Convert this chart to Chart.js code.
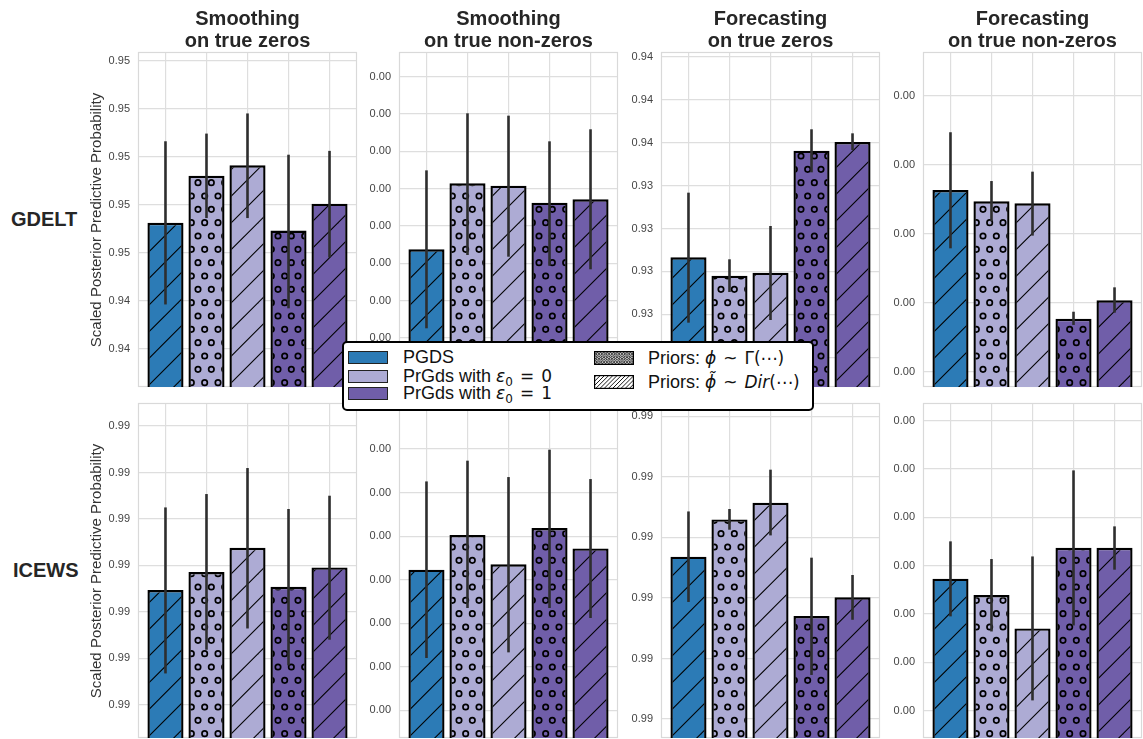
<!DOCTYPE html>
<html>
<head>
<meta charset="utf-8">
<script src="https://cdn.jsdelivr.net/npm/chart.js@4.4.0/dist/chart.umd.min.js"></script>
<style>
  body{margin:0;width:1143px;height:739px;overflow:hidden;background:#fff;position:relative;
       font-family:"Liberation Sans",Arial,sans-serif;color:#262626}
  canvas.panel{position:absolute}
  .title{position:absolute;width:300px;text-align:center;font-weight:bold;font-size:20px;line-height:22px}
  .rowlab{position:absolute;font-weight:bold;font-size:20px;line-height:22px}
  .ylab{position:absolute;font-size:15px;white-space:nowrap;color:#333;transform:translate(-50%,-50%) rotate(-90deg)}
  #legend{position:absolute;left:342px;top:341px;width:472px;height:70px;box-sizing:border-box;
          border:2px solid #000;border-radius:5px;background:#fff;z-index:5;color:#111}
  #legend canvas{position:absolute}
  #legend .lt{position:absolute;font-size:18px;line-height:20px;white-space:nowrap}
  #legend .m{font-family:"DejaVu Sans",sans-serif;font-size:17px}
  #legend .rel{margin:0 7px}
  #legend sub{font-family:"DejaVu Sans",sans-serif;font-size:12px;vertical-align:-4px;line-height:0}
</style>
</head>
<body>
<div id="legend"></div>
<script>
// ---- data ----
const colTitles = [['Smoothing','on true zeros'],['Smoothing','on true non-zeros'],['Forecasting','on true zeros'],['Forecasting','on true non-zeros']];
const rowNames = ['GDELT','ICEWS'];
const yTitle = 'Scaled Posterior Predictive Probability';

const models = ['PGDS (Dir)','PrGds e0=0 (Gamma)','PrGds e0=0 (Dir)','PrGds e0=1 (Gamma)','PrGds e0=1 (Dir)'];
const barColors = ['#2c7bb6','#adabd4','#adabd4','#705ea9','#705ea9'];
const barHatch = ['/','o','/','o','/'];

// GDELT
const gdeltSmoothZeros    = [0.94531, 0.94580, 0.94591, 0.94523, 0.94551];
const gdeltSmoothZerosLo  = [0.94446, 0.94536, 0.94536, 0.94442, 0.94495];
const gdeltSmoothZerosHi  = [0.94616, 0.94624, 0.94645, 0.94602, 0.94606];
const gdeltSmoothZerosTicks  = [0.9440, 0.9445, 0.9450, 0.9455, 0.9460, 0.9465, 0.9470];
const gdeltSmoothZerosLabels = ['0.94','0.94','0.95','0.95','0.95','0.95','0.95'];
const gdeltSmoothZerosRange  = [0.94360, 0.94709];

const gdeltSmoothNonZeros   = [0.002350, 0.003057, 0.003032, 0.002850, 0.002886];
const gdeltSmoothNonZerosLo = [0.001504, 0.002289, 0.002271, 0.002174, 0.002136];
const gdeltSmoothNonZerosHi = [0.003196, 0.003807, 0.003782, 0.003507, 0.003636];
const gdeltSmoothNonZerosTicks  = [0.0010, 0.0014, 0.0018, 0.0022, 0.0026, 0.0030, 0.0034, 0.0038, 0.0042];
const gdeltSmoothNonZerosLabels = ['0.00','0.00','0.00','0.00','0.00','0.00','0.00','0.00','0.00'];
const gdeltSmoothNonZerosRange  = [0.000875, 0.004464];

const gdeltForecastZeros   = [0.933664, 0.933450, 0.933485, 0.934906, 0.935007];
const gdeltForecastZerosLo = [0.932903, 0.933260, 0.932934, 0.934654, 0.934914];
const gdeltForecastZerosHi = [0.934417, 0.933641, 0.934029, 0.935155, 0.935108];
const gdeltForecastZerosTicks  = [0.9325, 0.9330, 0.9335, 0.9340, 0.9345, 0.9350, 0.9355, 0.9360];
const gdeltForecastZerosLabels = ['0.93','0.93','0.93','0.93','0.93','0.94','0.94','0.94'];
const gdeltForecastZerosRange  = [0.932154, 0.936055];

const gdeltForecastNonZeros   = [0.002318, 0.002236, 0.002222, 0.001384, 0.001518];
const gdeltForecastNonZerosLo = [0.001895, 0.002091, 0.001987, 0.001339, 0.001428];
const gdeltForecastNonZerosHi = [0.002737, 0.002383, 0.002451, 0.001435, 0.001612];
const gdeltForecastNonZerosTicks  = [0.0010, 0.0015, 0.0020, 0.0025, 0.0030];
const gdeltForecastNonZerosLabels = ['0.00','0.00','0.00','0.00','0.00'];
const gdeltForecastNonZerosRange  = [0.000889, 0.003319];

// ICEWS
const icewsSmoothZeros   = [0.992235, 0.992428, 0.992690, 0.992270, 0.992478];
const icewsSmoothZerosLo = [0.991337, 0.991592, 0.991821, 0.991423, 0.991700];
const icewsSmoothZerosHi = [0.993124, 0.993268, 0.993548, 0.993107, 0.993250];
const icewsSmoothZerosTicks  = [0.9910, 0.9915, 0.9920, 0.9925, 0.9930, 0.9935, 0.9940];
const icewsSmoothZerosLabels = ['0.99','0.99','0.99','0.99','0.99','0.99','0.99'];
const icewsSmoothZerosRange  = [0.990642, 0.994248];

const icewsSmoothNonZeros   = [0.002615, 0.003013, 0.002676, 0.003093, 0.002859];
const icewsSmoothNonZerosLo = [0.001601, 0.002175, 0.001666, 0.002175, 0.002060];
const icewsSmoothNonZerosHi = [0.003628, 0.003866, 0.003678, 0.003992, 0.003655];
const icewsSmoothNonZerosTicks  = [0.0010, 0.0015, 0.0020, 0.0025, 0.0030, 0.0035, 0.0040];
const icewsSmoothNonZerosLabels = ['0.00','0.00','0.00','0.00','0.00','0.00','0.00'];
const icewsSmoothNonZerosRange  = [0.000683, 0.004528];

const icewsForecastZeros   = [0.992341, 0.992649, 0.992787, 0.991851, 0.992005];
const icewsForecastZerosLo = [0.991967, 0.992564, 0.992517, 0.991364, 0.991820];
const icewsForecastZerosHi = [0.992715, 0.992735, 0.993060, 0.992333, 0.992190];
const icewsForecastZerosTicks  = [0.9910, 0.9915, 0.9920, 0.9925, 0.9930, 0.9935];
const icewsForecastZerosLabels = ['0.99','0.99','0.99','0.99','0.99','0.99'];
const icewsForecastZerosRange  = [0.990843, 0.993611];

const icewsForecastNonZeros   = [0.002366, 0.002197, 0.001851, 0.002686, 0.002686];
const icewsForecastNonZerosLo = [0.001976, 0.001820, 0.001107, 0.001882, 0.002459];
const icewsForecastNonZerosHi = [0.002752, 0.002569, 0.002596, 0.003486, 0.002907];
const icewsForecastNonZerosTicks  = [0.0010, 0.0015, 0.0020, 0.0025, 0.0030, 0.0035, 0.0040];
const icewsForecastNonZerosLabels = ['0.00','0.00','0.00','0.00','0.00','0.00','0.00'];
const icewsForecastNonZerosRange  = [0.000718, 0.004183];

const panels = [
  [gdeltSmoothZeros, gdeltSmoothZerosLo, gdeltSmoothZerosHi, gdeltSmoothZerosTicks, gdeltSmoothZerosLabels, gdeltSmoothZerosRange],
  [gdeltSmoothNonZeros, gdeltSmoothNonZerosLo, gdeltSmoothNonZerosHi, gdeltSmoothNonZerosTicks, gdeltSmoothNonZerosLabels, gdeltSmoothNonZerosRange],
  [gdeltForecastZeros, gdeltForecastZerosLo, gdeltForecastZerosHi, gdeltForecastZerosTicks, gdeltForecastZerosLabels, gdeltForecastZerosRange],
  [gdeltForecastNonZeros, gdeltForecastNonZerosLo, gdeltForecastNonZerosHi, gdeltForecastNonZerosTicks, gdeltForecastNonZerosLabels, gdeltForecastNonZerosRange],
  [icewsSmoothZeros, icewsSmoothZerosLo, icewsSmoothZerosHi, icewsSmoothZerosTicks, icewsSmoothZerosLabels, icewsSmoothZerosRange],
  [icewsSmoothNonZeros, icewsSmoothNonZerosLo, icewsSmoothNonZerosHi, icewsSmoothNonZerosTicks, icewsSmoothNonZerosLabels, icewsSmoothNonZerosRange],
  [icewsForecastZeros, icewsForecastZerosLo, icewsForecastZerosHi, icewsForecastZerosTicks, icewsForecastZerosLabels, icewsForecastZerosRange],
  [icewsForecastNonZeros, icewsForecastNonZerosLo, icewsForecastNonZerosHi, icewsForecastNonZerosTicks, icewsForecastNonZerosLabels, icewsForecastNonZerosRange],
];

// ---- layout ----
const plotLeft = [138, 399, 661, 923];
const plotTop = [52, 403];
const plotW = 219, plotH = 335;
const axisW = 40, padV = 16, padR = 4;
const FONT = '"Liberation Sans", Arial, sans-serif';

// hatch patterns, matplotlib-like
function hatchCanvas(color, kind){
  const c = document.createElement('canvas');
  const g = c.getContext('2d');
  if(kind === '/'){
    c.width = 80; c.height = 80;
    g.fillStyle = color; g.fillRect(0,0,80,80);
    g.strokeStyle = '#000'; g.lineWidth = 1.1;
    for(let k=-1;k<=7;k++){
      const s = k*80/3;
      g.beginPath(); g.moveTo(s-100, 100); g.lineTo(s+20, -20); g.stroke();
    }
  } else {
    c.width = 40; c.height = 80;
    g.fillStyle = color; g.fillRect(0,0,40,80);
    g.strokeStyle = '#000'; g.lineWidth = 1.7;
    const st = 40/3;
    for(let r=-1;r<=6;r++){
      const off = (r%2===0) ? 0 : st/2;
      for(let j=-1;j<=4;j++){
        g.beginPath(); g.arc(off + j*st, r*st, 2.7, 0, Math.PI*2); g.stroke();
      }
    }
  }
  return c;
}

const frame = {
  id:'frame',
  beforeDatasetsDraw(chart){
    const {ctx, chartArea:a} = chart;
    ctx.save(); ctx.strokeStyle = '#d9d9d9'; ctx.lineWidth = 1.2;
    ctx.strokeRect(a.left+0.5, a.top+0.5, a.width-1, a.height-1);
    ctx.restore();
  }
};

const errorBars = {
  id:'errorBars',
  afterDatasetsDraw(chart, args, opts){
    const {ctx, chartArea:a, scales:{x, y}} = chart;
    ctx.save();
    ctx.beginPath(); ctx.rect(a.left, a.top, a.width, a.height); ctx.clip();
    ctx.strokeStyle = '#2e2e2e'; ctx.lineWidth = 2.6;
    opts.lo.forEach((lo, i) => {
      const px = x.getPixelForValue(i);
      ctx.beginPath();
      ctx.moveTo(px, y.getPixelForValue(lo));
      ctx.lineTo(px, y.getPixelForValue(opts.hi[i]));
      ctx.stroke();
    });
    ctx.restore();
  }
};

function makePanel(idx){
  const [vals, lo, hi, ticks, labels, range] = panels[idx];
  const row = Math.floor(idx/4), col = idx%4;
  const cv = document.createElement('canvas');
  cv.className = 'panel';
  cv.width = axisW + plotW + padR;
  cv.height = plotH + 2*padV;
  cv.style.left = (plotLeft[col]-axisW) + 'px';
  cv.style.top = (plotTop[row]-padV) + 'px';
  document.body.appendChild(cv);
  const ctx = cv.getContext('2d');
  const fills = barColors.map((c,i) => ctx.createPattern(hatchCanvas(c, barHatch[i]), 'repeat'));
  const grid = {color:'#dedede', lineWidth:1.2, drawTicks:false, offset:false};
  new Chart(cv, {
    type:'bar',
    data:{ datasets:[{
      label:'model', data: vals.map((v,i)=>({x:i, y:v})),
      backgroundColor: fills, borderColor:'#000', borderWidth:2.4, borderSkipped:false,
      barPercentage:0.88, categoryPercentage:1
    }]},
    options:{
      responsive:false, animation:false, events:[],
      layout:{padding:{top:padV, bottom:padV, left:0, right:padR}},
      plugins:{legend:{display:false}, tooltip:{enabled:false}, errorBars:{lo, hi}},
      scales:{
        x:{type:'linear', min:-0.67, max:4.67, offset:false,
           afterBuildTicks:a=>{ a.ticks = models.map((m,i)=>({value:i})); },
           ticks:{display:false}, grid, border:{display:false},
           afterFit:a=>{ a.height = 0; }},
        y:{type:'linear', min:range[0], max:range[1],
           afterBuildTicks:a=>{ a.ticks = ticks.map(v=>({value:v})); },
           ticks:{callback:(v,i)=>labels[i], font:{size:11, family:FONT}, color:'#444', padding:8, autoSkip:false},
           grid, border:{display:false},
           afterFit:a=>{ a.width = axisW; }}
      }
    },
    plugins:[frame, errorBars]
  });
}

for(let i=0;i<panels.length;i++) makePanel(i);

// titles, row labels, y titles
colTitles.forEach((t,c) => {
  const d = document.createElement('div');
  d.className = 'title';
  d.style.left = (plotLeft[c] + plotW/2 - 150) + 'px';
  d.style.top = '7px';
  d.innerHTML = t.join('<br>');
  document.body.appendChild(d);
});
rowNames.forEach((n,r) => {
  const d = document.createElement('div');
  d.className = 'rowlab';
  d.style.left = (r===0 ? 11 : 13) + 'px';
  d.style.top = (plotTop[r] + plotH/2 - 12) + 'px';
  d.textContent = n;
  document.body.appendChild(d);
  const y = document.createElement('div');
  y.className = 'ylab';
  y.style.left = '95px';
  y.style.top = (plotTop[r] + plotH/2) + 'px';
  y.textContent = yTitle;
  document.body.appendChild(y);
});

// legend
const legend = document.getElementById('legend');
function swatch(x, y, w, h, draw){
  const c = document.createElement('canvas');
  c.width = w; c.height = h;
  c.style.left = x + 'px'; c.style.top = y + 'px';
  draw(c.getContext('2d'), w, h);
  legend.appendChild(c);
}
function text(x, yc, html){
  const d = document.createElement('div');
  d.className = 'lt';
  d.style.left = x + 'px'; d.style.top = (yc - 10) + 'px';
  d.innerHTML = html;
  legend.appendChild(d);
}
const legendColors = ['#2c7bb6','#adabd4','#705ea9'];
const legendNames = ['PGDS',
  'PrGds with <span class="m"><i>ε</i></span><sub>0</sub><span class="m rel">=</span><span class="m">0</span>',
  'PrGds with <span class="m"><i>ε</i></span><sub>0</sub><span class="m rel">=</span><span class="m">1</span>'];
const rowCy = [14, 32.5, 50];
legendColors.forEach((col,i) => {
  swatch(4, rowCy[i]-6, 40, 13, (g,w,h) => {
    g.fillStyle = col; g.fillRect(0,0,w,h);
    g.strokeStyle = '#222'; g.lineWidth = 1; g.strokeRect(0.5,0.5,w-1,h-1);
  });
  text(59, rowCy[i], legendNames[i]);
});
swatch(250, 8, 40, 14, (g,w,h) => {
  g.fillStyle = '#fff'; g.fillRect(0,0,w,h);
  g.strokeStyle = '#000'; g.lineWidth = 0.9;
  for(let r=0;r<6;r++){
    for(let j=0;j<14;j++){
      const x = j*3.3 + (r%2 ? 1.65 : 0), y = r*2.6 + 0.5;
      g.beginPath(); g.arc(x, y, 1.0, 0, Math.PI*2); g.stroke();
    }
  }
  g.lineWidth = 1.2; g.strokeRect(0.6,0.6,w-1.2,h-1.2);
});
swatch(250, 32, 40, 14, (g,w,h) => {
  g.fillStyle = '#fff'; g.fillRect(0,0,w,h);
  g.strokeStyle = '#000'; g.lineWidth = 0.9;
  for(let s=-10;s<60;s+=4.2){
    g.beginPath(); g.moveTo(s-20, 20); g.lineTo(s+6, -6); g.stroke();
  }
  g.lineWidth = 1.2; g.strokeRect(0.6,0.6,w-1.2,h-1.2);
});
text(304, 15, 'Priors: <span class="m"><i>ϕ</i><span class="rel">~</span>Γ(⋯)</span>');
text(304, 39, 'Priors: <span class="m"><i>ϕ̃</i><span class="rel">~</span><i>Dir</i>(⋯)</span>');
</script>
</body>
</html>
